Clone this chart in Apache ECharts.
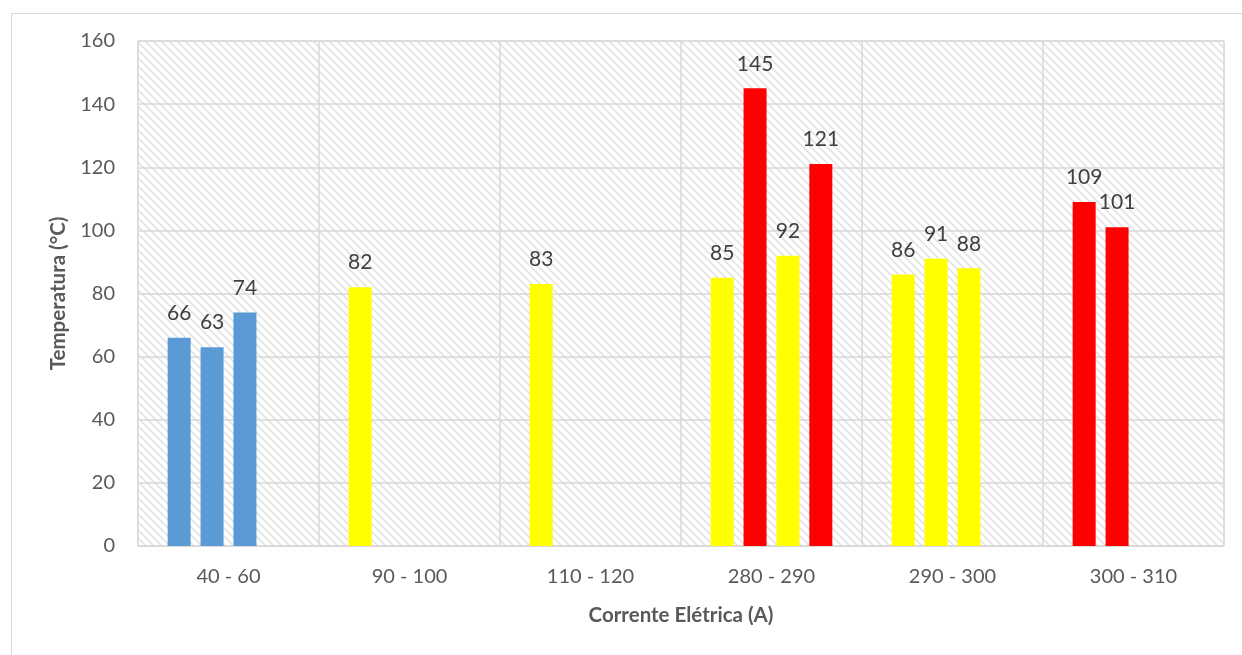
<!DOCTYPE html>
<html>
<head>
<meta charset="utf-8">
<script src="https://cdn.jsdelivr.net/npm/echarts@6/dist/echarts.min.js"></script>
<style>
  html, body { margin: 0; padding: 0; background: #fff; }
  #chart { width: 1242px; height: 655px; }
</style>
</head>
<body>
<div id="chart"></div>
<script>
// Current ranges (A)
const categories = ['40 - 60', '90 - 100', '110 - 120', '280 - 290', '290 - 300', '300 - 310'];

// Measured temperatures (°C), one array per bar position inside each range
const medicao1 = [66, 82, 83, 85, 86, 109];
const medicao2 = [63, null, null, 145, 91, 101];
const medicao3 = [74, null, null, 92, 88, null];
const medicao4 = [null, null, null, 121, null, null];

const yTicks = { min: 0, max: 160, interval: 20 };

// Bar colour by temperature band
function bandColor(v) {
  if (v < 80) return '#5B9BD5';
  if (v <= 100) return '#FFFF00';
  return '#FF0000';
}

// Light diagonal hatch used to fill the plot area
function hatchPattern() {
  const s = 8;
  const c = document.createElement('canvas');
  c.width = s; c.height = s;
  const g = c.getContext('2d');
  g.fillStyle = '#ffffff';
  g.fillRect(0, 0, s, s);
  g.strokeStyle = '#e4e4e4';
  g.lineWidth = 1.8;
  g.beginPath();
  g.moveTo(-1, -1); g.lineTo(s + 1, s + 1);
  g.moveTo(-1, s - 1); g.lineTo(1, s + 1);
  g.moveTo(s - 1, -1); g.lineTo(s + 1, 1);
  g.stroke();
  return { image: c, repeat: 'repeat' };
}

const FONT = 'Lato, "Open Sans", sans-serif';

function makeSeries(name, values) {
  return {
    name: name,
    type: 'bar',
    data: values,
    barWidth: 23,
    barGap: '43%',
    itemStyle: { color: p => bandColor(p.value) },
    label: {
      show: true,
      position: 'top',
      distance: 14,
      color: '#404040',
      fontFamily: FONT,
      fontSize: 21
    }
  };
}

const chart = echarts.init(document.getElementById('chart'), null, { renderer: 'canvas' });

chart.setOption({
  animation: false,
  backgroundColor: '#ffffff',
  graphic: [{
    type: 'rect',
    left: 9, top: 11,
    shape: { width: 1300, height: 700 },
    style: { fill: 'none', stroke: '#d9d9d9', lineWidth: 1 },
    silent: true,
    z: -10
  }],
  grid: {
    left: 138, right: 18, top: 41, bottom: 109,
    show: true,
    backgroundColor: hatchPattern(),
    borderColor: '#d9d9d9',
    borderWidth: 1
  },
  xAxis: {
    type: 'category',
    data: categories,
    name: 'Corrente Elétrica (A)',
    nameLocation: 'middle',
    nameGap: 59,
    nameTextStyle: { fontFamily: FONT, fontSize: 20.5, fontWeight: 'bold', color: '#595959' },
    axisLine: { show: true, lineStyle: { color: '#d9d9d9', width: 1 } },
    axisTick: { show: false },
    axisLabel: { fontFamily: FONT, fontSize: 20, color: '#595959', margin: 21 },
    splitLine: { show: true, lineStyle: { color: '#d9d9d9', width: 1.5 } }
  },
  yAxis: {
    type: 'value',
    min: yTicks.min, max: yTicks.max, interval: yTicks.interval,
    name: 'Temperatura (°C)',
    nameLocation: 'middle',
    nameGap: 69,
    nameTextStyle: { fontFamily: FONT, fontSize: 20.5, fontWeight: 'bold', color: '#595959' },
    axisLine: { show: false },
    axisTick: { show: false },
    axisLabel: { fontFamily: FONT, fontSize: 20, color: '#595959', margin: 23 },
    splitLine: { show: true, lineStyle: { color: '#d9d9d9', width: 1.5 } }
  },
  series: [
    makeSeries('Medição 1', medicao1),
    makeSeries('Medição 2', medicao2),
    makeSeries('Medição 3', medicao3),
    makeSeries('Medição 4', medicao4)
  ]
});
</script>
</body>
</html>
